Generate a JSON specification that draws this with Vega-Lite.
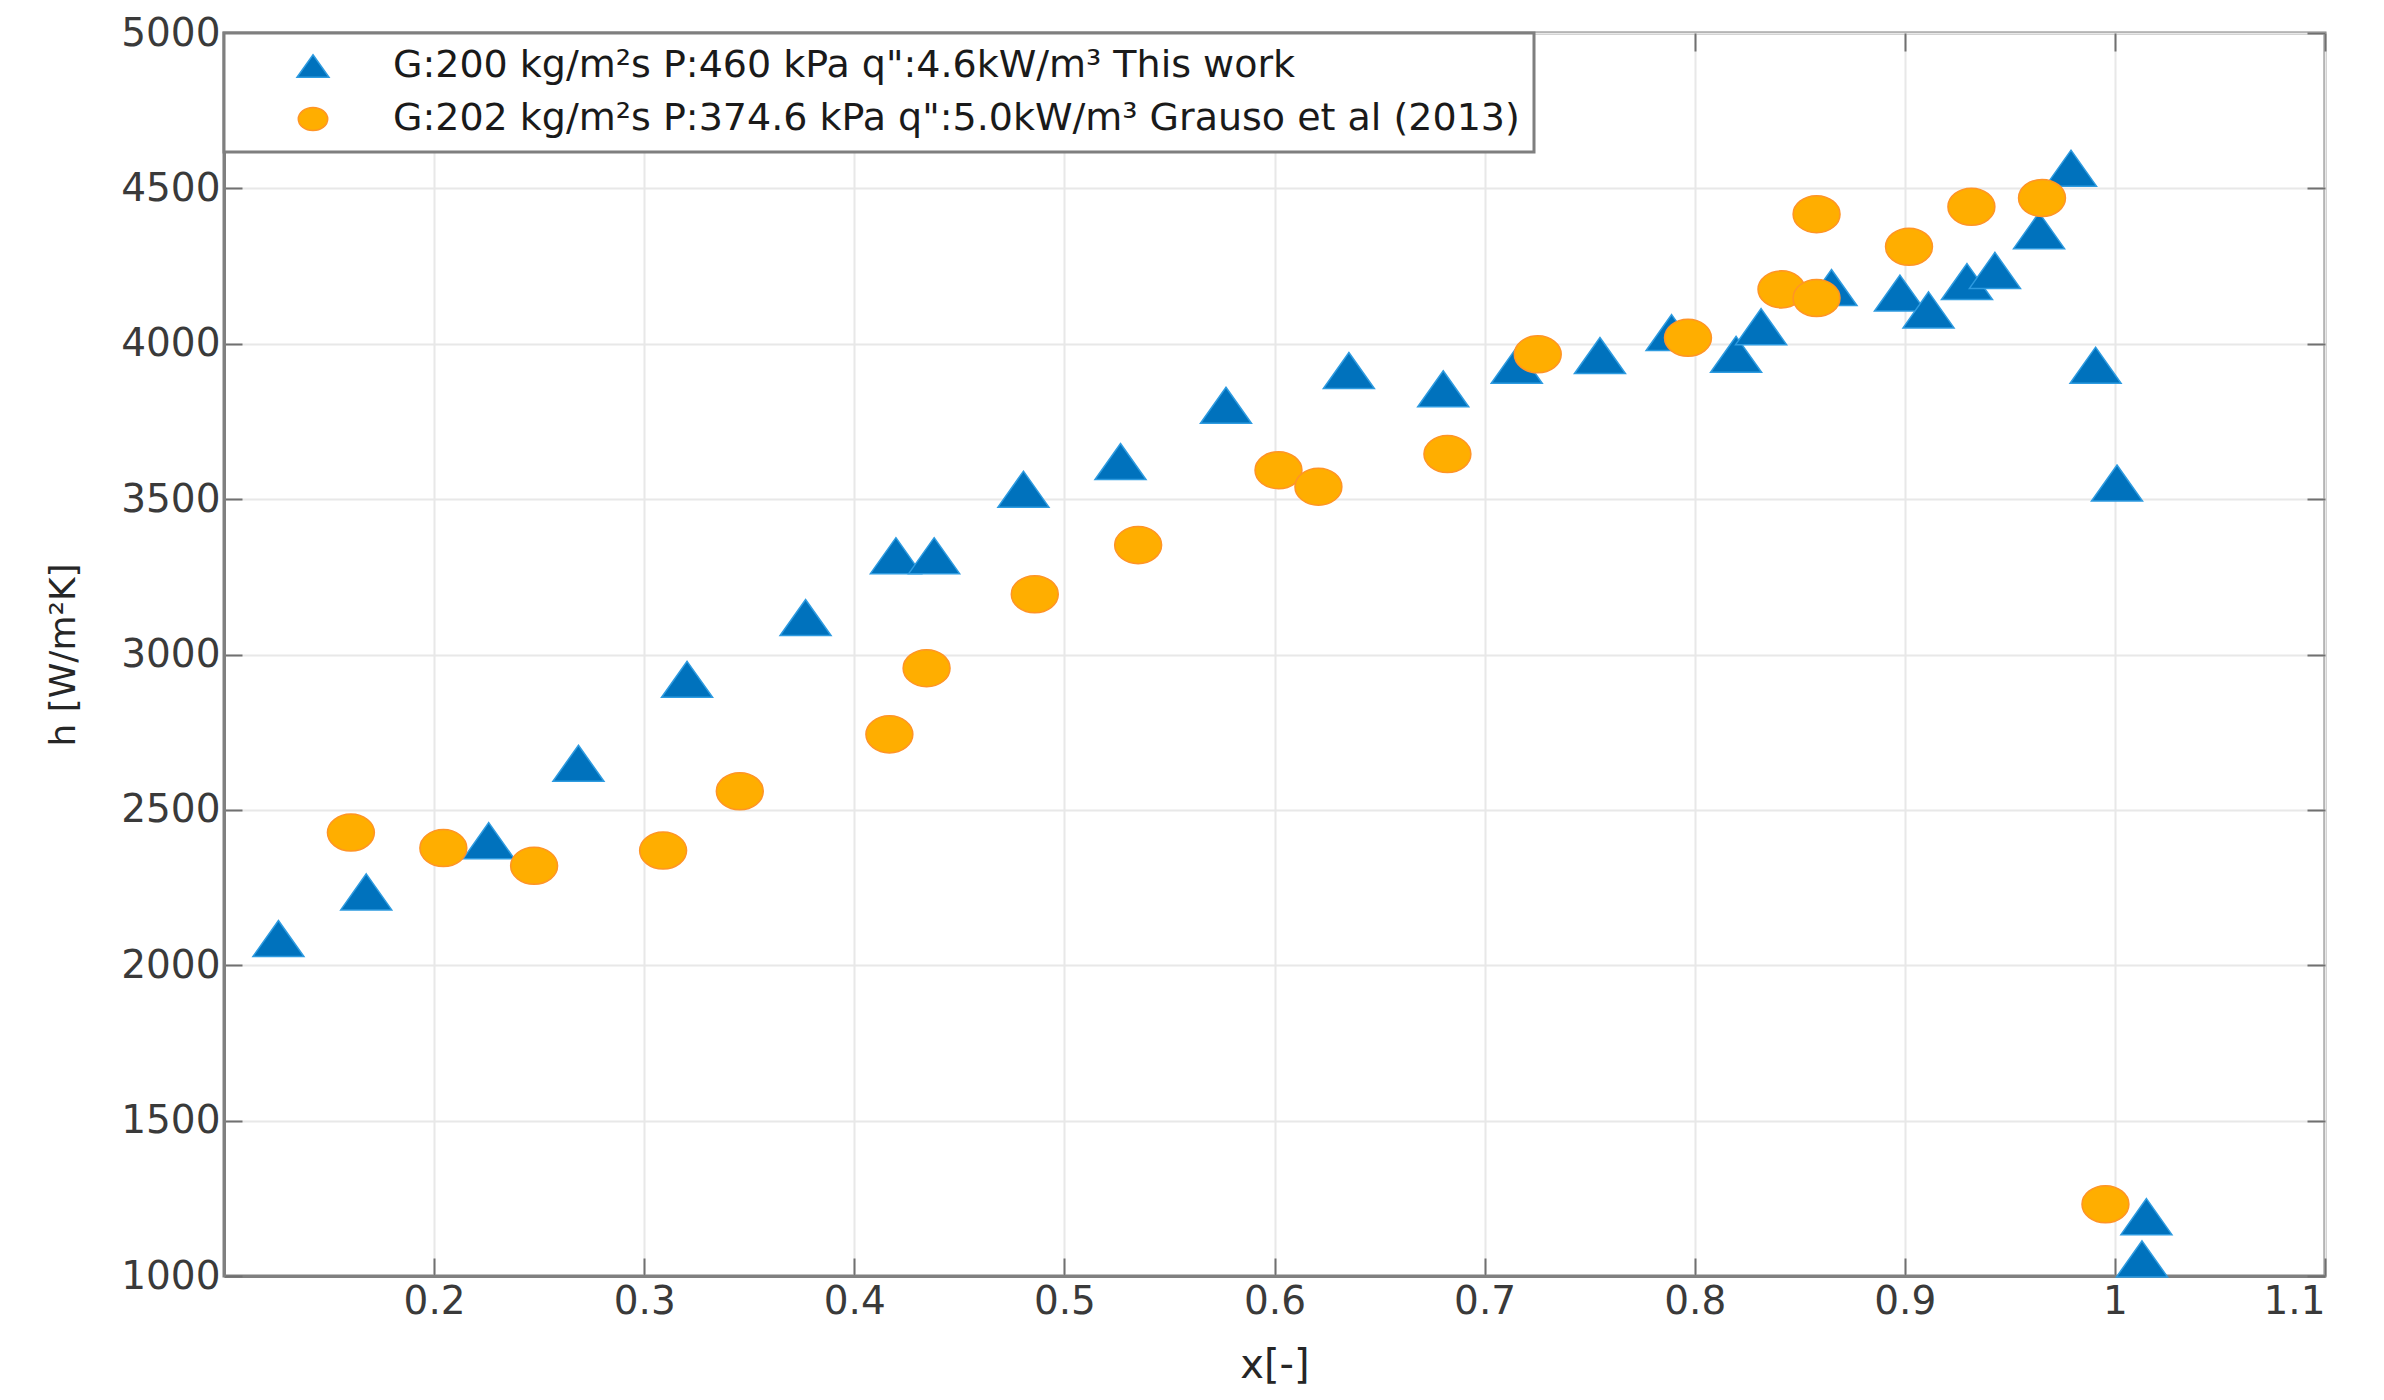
{
  "$schema": "https://vega.github.io/schema/vega-lite/v6.json",
  "width": 2101,
  "height": 1243,
  "autosize": {"type": "none"},
  "padding": {"left": 224, "top": 33, "right": 59, "bottom": 124},
  "background": "white",
  "config": {
    "font": "DejaVu Sans",
    "view": {"stroke": "#808080", "strokeWidth": 3},
    "axis": {
      "labelFont": "DejaVu Sans",
      "titleFont": "DejaVu Sans",
      "labelColor": "#3a3a3a",
      "titleColor": "#262626",
      "titleFontWeight": "normal",
      "domainColor": "#808080",
      "domainWidth": 3,
      "tickColor": "#707070",
      "tickWidth": 2,
      "gridColor": "#e8e8e8",
      "gridWidth": 2
    },
    "legend": {
      "orient": "top-left",
      "offset": 0,
      "fillColor": "white",
      "strokeColor": "#7f7f7f",
      "strokeWidth": 3,
      "padding": 14,
      "symbolSize": 1024,
      "symbolOffset": 56,
      "symbolOpacity": 1,
      "symbolStrokeWidth": 1.5,
      "labelOffset": 61,
      "labelFont": "DejaVu Sans",
      "labelFontSize": 38,
      "labelColor": "#1a1a1a",
      "labelLimit": 3000,
      "rowPadding": 15
    }
  },
  "data": {
    "values": [
      {"series": "A", "x": 0.1259, "h": 2086},
      {"series": "A", "x": 0.1677, "h": 2236},
      {"series": "A", "x": 0.226, "h": 2401},
      {"series": "A", "x": 0.2687, "h": 2650},
      {"series": "A", "x": 0.3204, "h": 2920},
      {"series": "A", "x": 0.3768, "h": 3119},
      {"series": "A", "x": 0.4198, "h": 3318},
      {"series": "A", "x": 0.438, "h": 3318},
      {"series": "A", "x": 0.4805, "h": 3532},
      {"series": "A", "x": 0.5267, "h": 3621},
      {"series": "A", "x": 0.5769, "h": 3802},
      {"series": "A", "x": 0.6354, "h": 3914},
      {"series": "A", "x": 0.6803, "h": 3855},
      {"series": "A", "x": 0.7153, "h": 3931},
      {"series": "A", "x": 0.7549, "h": 3962},
      {"series": "A", "x": 0.789, "h": 4036},
      {"series": "A", "x": 0.8197, "h": 3966},
      {"series": "A", "x": 0.8316, "h": 4055},
      {"series": "A", "x": 0.8651, "h": 4181},
      {"series": "A", "x": 0.8977, "h": 4163},
      {"series": "A", "x": 0.9113, "h": 4109},
      {"series": "A", "x": 0.9296, "h": 4200},
      {"series": "A", "x": 0.9429, "h": 4236},
      {"series": "A", "x": 0.9639, "h": 4364},
      {"series": "A", "x": 0.9791, "h": 4565},
      {"series": "A", "x": 0.9908, "h": 3931},
      {"series": "A", "x": 1.001, "h": 3552},
      {"series": "A", "x": 1.015, "h": 1191},
      {"series": "A", "x": 1.0129, "h": 1055},
      {"series": "B", "x": 0.1604, "h": 2427},
      {"series": "B", "x": 0.2044, "h": 2377},
      {"series": "B", "x": 0.2476, "h": 2320},
      {"series": "B", "x": 0.309, "h": 2369},
      {"series": "B", "x": 0.3455, "h": 2560},
      {"series": "B", "x": 0.4167, "h": 2743},
      {"series": "B", "x": 0.4344, "h": 2956},
      {"series": "B", "x": 0.4859, "h": 3194},
      {"series": "B", "x": 0.5351, "h": 3352},
      {"series": "B", "x": 0.6019, "h": 3593},
      {"series": "B", "x": 0.6209, "h": 3540},
      {"series": "B", "x": 0.6823, "h": 3645},
      {"series": "B", "x": 0.7253, "h": 3966},
      {"series": "B", "x": 0.7968, "h": 4019},
      {"series": "B", "x": 0.8413, "h": 4175},
      {"series": "B", "x": 0.858, "h": 4147},
      {"series": "B", "x": 0.858, "h": 4417},
      {"series": "B", "x": 0.902, "h": 4312},
      {"series": "B", "x": 0.9317, "h": 4441},
      {"series": "B", "x": 0.9653, "h": 4469},
      {"series": "B", "x": 0.9955, "h": 1231}
    ]
  },
  "transform": [
    {"lookup": "series", "from": {"data": {"values": [
      {"series": "A", "label": "G:200 kg/m²s P:460 kPa q\":4.6kW/m³ This work"},
      {"series": "B", "label": "G:202 kg/m²s P:374.6 kPa q\":5.0kW/m³ Grauso et al (2013)"}
    ]}, "key": "series", "fields": ["label"]}}
  ],
  "layer": [
    {
      "mark": {"type": "point", "filled": true, "size": 2601, "strokeWidth": 1.5, "opacity": 1},
      "encoding": {
        "x": {
          "field": "x", "type": "quantitative",
          "scale": {"domain": [0.1, 1.1], "nice": false, "zero": false},
          "axis": {
            "orient": "bottom",
            "values": [0.2, 0.3, 0.4, 0.5, 0.6, 0.7, 0.8, 0.9, 1.0, 1.1],
            "format": "~g",
            "labelFontSize": 39,
            "labelPadding": 24,
            "tickSize": -18,
            "title": "x[-]",
            "titleFontSize": 40,
            "titlePadding": 24
          }
        },
        "y": {
          "field": "h", "type": "quantitative",
          "scale": {"domain": [1000, 5000], "nice": false, "zero": false},
          "axis": {
            "orient": "left",
            "values": [1000, 1500, 2000, 2500, 3000, 3500, 4000, 4500, 5000],
            "format": "d",
            "labelFontSize": 39,
            "labelPadding": 22,
            "tickSize": -18,
            "title": "h [W/m²K]",
            "titleFontSize": 36,
            "titlePadding": 38
          }
        },
        "shape": {
          "field": "label", "type": "nominal",
          "scale": {
            "domain": ["G:200 kg/m²s P:460 kPa q\":4.6kW/m³ This work", "G:202 kg/m²s P:374.6 kPa q\":5.0kW/m³ Grauso et al (2013)"],
            "range": ["M0,-0.706L1,0.706L-1,0.706Z", "M-0.92,0A0.92,0.726,0,1,0,0.92,0A0.92,0.726,0,1,0,-0.92,0Z"]
          },
          "legend": {"title": null}
        },
        "fill": {
          "field": "label", "type": "nominal",
          "scale": {
            "domain": ["G:200 kg/m²s P:460 kPa q\":4.6kW/m³ This work", "G:202 kg/m²s P:374.6 kPa q\":5.0kW/m³ Grauso et al (2013)"],
            "range": ["#0072BD", "#FFAE00"]
          },
          "legend": {"title": null}
        },
        "stroke": {
          "field": "label", "type": "nominal",
          "scale": {
            "domain": ["G:200 kg/m²s P:460 kPa q\":4.6kW/m³ This work", "G:202 kg/m²s P:374.6 kPa q\":5.0kW/m³ Grauso et al (2013)"],
            "range": ["#2E9BE0", "#FF9426"]
          },
          "legend": {"title": null}
        }
      }
    },
    {
      "mark": {"type": "point", "opacity": 0},
      "encoding": {
        "x": {
          "field": "x", "type": "quantitative",
          "axis": {
            "orient": "top",
            "values": [0.2, 0.3, 0.4, 0.5, 0.6, 0.7, 0.8, 0.9, 1.0, 1.1],
            "labels": false, "grid": false, "domain": false,
            "tickSize": -18, "title": null
          }
        },
        "y": {
          "field": "h", "type": "quantitative",
          "axis": {
            "orient": "right",
            "values": [1000, 1500, 2000, 2500, 3000, 3500, 4000, 4500, 5000],
            "labels": false, "grid": false, "domain": false,
            "tickSize": -18, "title": null
          }
        }
      }
    }
  ],
  "resolve": {"axis": {"x": "independent", "y": "independent"}}
}
